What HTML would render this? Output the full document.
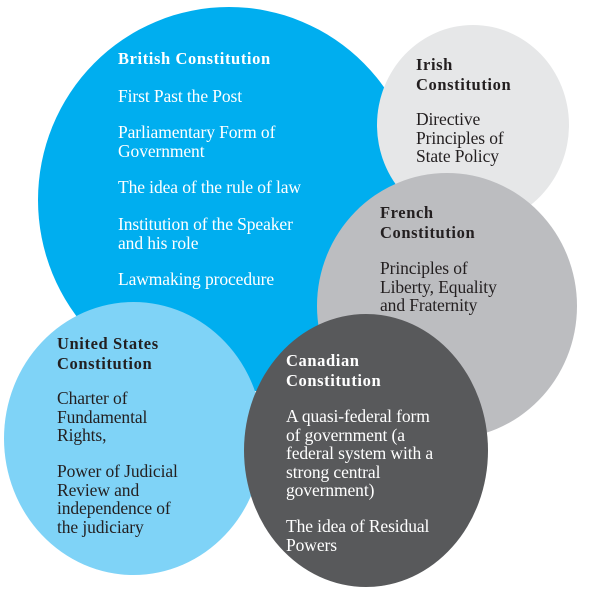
<!DOCTYPE html>
<html><head><meta charset="utf-8"><style>
html,body{margin:0;padding:0;background:#fff;}
body{width:615px;height:597px;position:relative;overflow:hidden;font-family:"Liberation Serif",serif;}
.c{position:absolute;border-radius:50%;}
.t{position:absolute;font-size:17.5px;line-height:18.5px;white-space:nowrap;letter-spacing:-0.1px;}
.t b{font-size:16.5px;letter-spacing:0.6px;}
.w{color:#fff}.d{color:#231f20}
</style></head><body>
<div class="c" style="left:38px;top:7px;width:382px;height:386px;background:#00aeef"></div>
<div class="c" style="left:377px;top:25px;width:192px;height:200px;background:#e6e7e8"></div>
<div class="c" style="left:317px;top:173px;width:260px;height:266px;background:#bcbdc0"></div>
<div class="c" style="left:4px;top:302px;width:259px;height:273px;background:#7fd3f7"></div>
<div class="c" style="left:244px;top:314px;width:244px;height:273px;background:#58595b"></div>

<div class="t w" style="left:118px;top:49px"><b>British Constitution</b></div>
<div class="t w" style="left:118px;top:87px">First Past the Post</div>
<div class="t w" style="left:118px;top:123px">Parliamentary Form of<br>Government</div>
<div class="t w" style="left:118px;top:178px">The idea of the rule of law</div>
<div class="t w" style="left:118px;top:215px">Institution of the Speaker<br>and his role</div>
<div class="t w" style="left:118px;top:270px">Lawmaking procedure</div>

<div class="t d" style="left:416px;top:55px"><b>Irish<br>Constitution</b></div>
<div class="t d" style="left:416px;top:110px">Directive<br>Principles of<br>State Policy</div>

<div class="t d" style="left:380px;top:203px"><b>French<br>Constitution</b></div>
<div class="t d" style="left:380px;top:259px">Principles of<br>Liberty, Equality<br>and Fraternity</div>

<div class="t d" style="left:57px;top:334px"><b>United States<br>Constitution</b></div>
<div class="t d" style="left:57px;top:389px">Charter of<br>Fundamental<br>Rights,</div>
<div class="t d" style="left:57px;top:462px">Power of Judicial<br>Review and<br>independence of<br>the judiciary</div>

<div class="t w" style="left:286px;top:351px"><b>Canadian<br>Constitution</b></div>
<div class="t w" style="left:286px;top:407px">A quasi-federal form<br>of government (a<br>federal system with a<br>strong central<br>government)</div>
<div class="t w" style="left:286px;top:517px">The idea of Residual<br>Powers</div>
</body></html>
